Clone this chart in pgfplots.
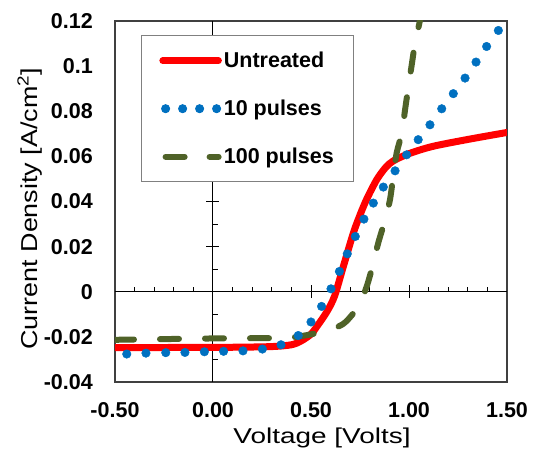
\documentclass[border=0pt]{standalone}
\usepackage{fontspec}
\setmainfont{Liberation Sans}
\usepackage{pgfplots}
\pgfplotsset{compat=1.18}
\definecolor{UntRed}{HTML}{FF0000}
\definecolor{PulseBlue}{HTML}{0070C0}
\definecolor{PulseGreen}{HTML}{4F6228}
\definecolor{FrameGray}{HTML}{404040}

\begin{document}
\begin{tikzpicture}
\begin{axis}[
    name=ax,
    scale only axis,
    width=392pt, height=361pt,
    xmin=-0.5, xmax=1.5,
    ymin=-0.04, ymax=0.12,
    axis line style={draw=FrameGray, line width=1.1pt},
    major tick length=0pt, minor tick length=0pt,
    xtick={-0.5,0,0.5,1,1.5},
    xticklabels={-0.50,0.00,0.50,1.00,1.50},
    ytick={-0.04,-0.02,0,0.02,0.04,0.06,0.08,0.1,0.12},
    yticklabels={-0.04,-0.02,0,0.02,0.04,0.06,0.08,0.1,0.12},
    xticklabel style={font=\fontsize{21.5}{24}\selectfont\bfseries, anchor=center, yshift=-28pt},
    yticklabel style={font=\fontsize{21.5}{24}\selectfont\bfseries, anchor=east, inner sep=0pt, xshift=-22pt},
    xlabel={\scalebox{1.3}[1]{Voltage [Volts]}},
    ylabel={\scalebox{1.17}[1]{Current Density [A/cm\textsuperscript{2}]}},
    xlabel style={font=\fontsize{21.5}{24}\selectfont, at={(axis description cs:0.528,-0.155)}, anchor=center},
    ylabel style={font=\fontsize{23}{26}\selectfont, at={(axis description cs:-0.217,0.48)}, anchor=center},
    legend style={at={(axis description cs:0.066,0.961)}, anchor=north west,
        draw=gray, line width=1pt, fill=white,
        font=\fontsize{21.5}{24}\selectfont\bfseries,
        inner xsep=18pt, inner ysep=14.5pt, row sep=27pt},
    legend cell align=left,
    /tikz/every even column/.append style={column sep=4pt},
]
% axis lines through the origin, Excel style ticks
\draw[black, line width=1pt] (axis cs:-0.5,0) -- (axis cs:1.5,0);
\draw[black, line width=1pt] (axis cs:0,-0.04) -- (axis cs:0,0.12);
\pgfplotsinvokeforeach{-0.4,-0.3,-0.2,-0.1,0.1,0.2,0.3,0.4,0.6,0.7,0.8,0.9,1.1,1.2,1.3,1.4}{
  \draw[black, line width=0.9pt] (axis cs:#1,0) -- ++(0pt,5pt);
}
\pgfplotsinvokeforeach{0.5,1.0}{
  \draw[black, line width=0.9pt] (axis cs:#1,0) ++(0pt,-6.5pt) -- ++(0pt,13pt);
}
\pgfplotsinvokeforeach{-0.03,-0.01,0.01,0.03,0.05,0.07,0.09,0.11}{
  \draw[black, line width=0.9pt] (axis cs:0,#1) -- ++(5pt,0pt);
}
\pgfplotsinvokeforeach{-0.02,0.02,0.04,0.06,0.08,0.1}{
  \draw[black, line width=0.9pt] (axis cs:0,#1) ++(-6.5pt,0pt) -- ++(13pt,0pt);
}

\addplot[UntRed, line width=7pt, smooth, line cap=round,
    legend image code/.code={\draw[UntRed, line width=6.5pt, line cap=round] (0pt,0pt) -- (56pt,0pt);}]
coordinates {
    (-0.5,-0.0248) (-0.2,-0.0247) (0.1,-0.0246) (0.3,-0.0243) (0.4,-0.0235)
    (0.45,-0.0218) (0.5,-0.0188) (0.53,-0.0154) (0.58,-0.0090) (0.62,-0.0020)
    (0.665,0.0112) (0.716,0.0260) (0.75,0.0340) (0.784,0.0410) (0.835,0.0496)
    (0.88,0.0550) (0.92,0.0580) (1.0,0.0612) (1.12,0.0644) (1.3,0.0675) (1.5,0.0706)
};
\addlegendentry{Untreated}

\addplot[only marks, mark=*, mark size=4.3pt, mark options={fill=PulseBlue, draw=PulseBlue},
    legend image code/.code={
      \fill[PulseBlue] (3pt,0pt) circle (4pt);
      \fill[PulseBlue] (20pt,0pt) circle (4pt);
      \fill[PulseBlue] (37pt,0pt) circle (4pt);
      \fill[PulseBlue] (54pt,0pt) circle (4pt);}]
coordinates {
    (-0.44,-0.0276) (-0.342,-0.0272) (-0.241,-0.0270) (-0.143,-0.0269) (-0.044,-0.0266)
    (0.054,-0.0264) (0.153,-0.0262) (0.252,-0.0254) (0.347,-0.0235) (0.435,-0.0194)
    (0.50,-0.0134) (0.554,-0.0065) (0.602,0.0013) (0.645,0.0090) (0.685,0.0168)
    (0.726,0.0245) (0.77,0.0322) (0.818,0.0393) (0.869,0.0464) (0.929,0.0536)
    (0.988,0.0607) (1.047,0.0674) (1.107,0.0740) (1.167,0.0811) (1.226,0.0878)
    (1.286,0.0947) (1.342,0.1018) (1.396,0.1087) (1.456,0.1158)
};
\addlegendentry{10 pulses}

\addplot[PulseGreen, line width=6pt, smooth, line cap=round, dash pattern=on 19pt off 26pt,
    legend image code/.code={\draw[PulseGreen, line width=6pt, line cap=round, dash pattern=on 19pt off 25pt] (3pt,0pt) -- (56pt,0pt);}]
coordinates {
    (-0.5,-0.0213) (0.0,-0.0207) (0.34,-0.0205) (0.44,-0.0198) (0.563,-0.0176)
    (0.665,-0.0142) (0.741,-0.0065) (0.784,0.0023) (0.818,0.0127) (0.843,0.0216)
    (0.878,0.0319) (0.903,0.0408) (0.920,0.0514) (0.937,0.0615) (0.963,0.0703)
    (0.980,0.0807) (0.996,0.0903) (1.014,0.1006) (1.031,0.1102) (1.056,0.1203)
    (1.07,0.128)
};
\addlegendentry{100 pulses}
\end{axis}
\pgfresetboundingbox
\path (ax.south west) ++(-115pt,-78pt) rectangle ++(536pt,460pt);
\end{tikzpicture}
\end{document}
